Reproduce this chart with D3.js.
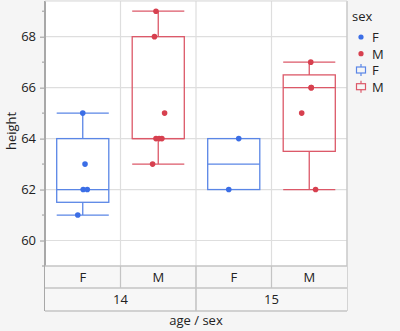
<!DOCTYPE html>
<html><head><meta charset="utf-8">
<script src="https://cdn.jsdelivr.net/npm/d3@7"></script>
<style>body{margin:0;background:#f5f5f5;}svg{display:block;font-family:"Open Sans","Noto Sans",sans-serif;}</style>
</head><body><svg id="c" width="400" height="331"></svg>
<script>
const ages = ["14","15"];
const sexes = ["F","M"];
const groupAge = ["14","14","15","15"];
const groupSex = ["F","M","F","M"];
const groupValues = [
  [65,63,62,62,61],
  [69,68,65,64,64,64,63],
  [64,62],
  [67,66,66,65,62]
];
const jitter = [
  [0,0.03,0.006,0.06,-0.066],
  [-0.03,-0.05,0.084,-0.03,0.012,0.048,-0.075],
  [0.066,-0.066],
  [0.02,0.026,0.026,-0.1,0.084]
];
const yTicks = [60,62,64,66,68];
const yMinor = [59,61,63,65,67,69];
const colors = {F:"#3b6ee6", M:"#d7404f"};
const boxColors = {F:"#5a86e6", M:"#dc5868"};

const svg = d3.select("#c");
const L=45, R=347, T=1, B=266;
svg.append("rect").attr("x",L).attr("y",T).attr("width",R-L).attr("height",B-T).attr("fill","#fff");
const y = d3.scaleLinear().domain([59,69.4]).range([B,T]);
const x = d3.scaleBand().domain(d3.range(groupValues.length)).range([L,R]);

// grid
svg.append("g").selectAll("line").data(yTicks).join("line")
  .attr("x1",L).attr("x2",R).attr("y1",d=>y(d)).attr("y2",d=>y(d)).attr("stroke","#dedede").attr("stroke-width",1.2);
svg.append("g").selectAll("line").data(d3.range(1,groupValues.length)).join("line")
  .attr("x1",d=>x(d)).attr("x2",d=>x(d)).attr("y1",T).attr("y2",B).attr("stroke","#dedede").attr("stroke-width",1.2);

// y axis
const ax = svg.append("g").attr("transform",`translate(${L},0)`)
  .call(d3.axisLeft(y).tickValues(yTicks).tickSize(5).tickFormat(d3.format("d")));
ax.select(".domain").remove();
ax.selectAll("line").attr("stroke","#999");
ax.selectAll("text").attr("font-size",13).attr("fill","#222").attr("font-family","Open Sans, sans-serif").attr("x",-9);
svg.append("g").selectAll("line").data(yMinor).join("line")
  .attr("x1",L-3).attr("x2",L).attr("y1",d=>y(d)).attr("y2",d=>y(d)).attr("stroke","#999");

// boxes
function q(arr,p){const s=arr.slice().sort((a,b)=>a-b);const n=s.length;const h=(n+1)*p;const lo=Math.floor(h),hi=Math.ceil(h);
  const a=s[Math.max(0,Math.min(n-1,lo-1))],b=s[Math.max(0,Math.min(n-1,hi-1))];return a+(b-a)*(h-lo);}
const bw = x.bandwidth();
groupValues.forEach((vals,i)=>{
  const sx=groupSex[i], c=boxColors[sx];
  const cx=x(i)+bw/2, half=bw*0.345;
  const q1=q(vals,0.25), med=q(vals,0.5), q3=q(vals,0.75), mn=d3.min(vals), mx=d3.max(vals);
  const g=svg.append("g").attr("stroke",c).attr("fill","none").attr("stroke-width",1.3);
  g.append("rect").attr("x",cx-half).attr("y",y(q3)).attr("width",2*half).attr("height",y(q1)-y(q3));
  g.append("line").attr("x1",cx-half).attr("x2",cx+half).attr("y1",y(med)).attr("y2",y(med));
  if(mx>q3){g.append("line").attr("x1",cx).attr("x2",cx).attr("y1",y(mx)).attr("y2",y(q3));
    g.append("line").attr("x1",cx-half).attr("x2",cx+half).attr("y1",y(mx)).attr("y2",y(mx));}
  if(mn<q1){g.append("line").attr("x1",cx).attr("x2",cx).attr("y1",y(q1)).attr("y2",y(mn));
    g.append("line").attr("x1",cx-half).attr("x2",cx+half).attr("y1",y(mn)).attr("y2",y(mn));}
  svg.append("g").selectAll("circle").data(vals).join("circle")
    .attr("cx",(d,j)=>cx+jitter[i][j]*bw).attr("cy",d=>y(d)).attr("r",2.8).attr("fill",colors[sx]);
});

// border
svg.append("line").attr("x1",L).attr("x2",L).attr("y1",T).attr("y2",311).attr("stroke","#a8a8a8").attr("stroke-width",2);
svg.append("line").attr("x1",R).attr("x2",R).attr("y1",T).attr("y2",311).attr("stroke","#c8c8c8").attr("stroke-width",1.5);
svg.append("line").attr("x1",L).attr("x2",R).attr("y1",T).attr("y2",T).attr("stroke","#d8d8d8");

// category table
const r1=B, r2=288, r3=311;
svg.append("rect").attr("x",L).attr("y",r1).attr("width",R-L).attr("height",r3-r1).attr("fill","#f7f7f7");
[r1,r2,r3].forEach(yy=>svg.append("line").attr("x1",L).attr("x2",R).attr("y1",yy).attr("y2",yy).attr("stroke","#c4c4c4").attr("stroke-width",1.4));
d3.range(1,groupValues.length).forEach(i=>{
  const ageBoundary = groupAge[i]!==groupAge[i-1];
  svg.append("line").attr("x1",x(i)).attr("x2",x(i)).attr("y1",r1).attr("y2",ageBoundary?r3:r2).attr("stroke","#c4c4c4").attr("stroke-width",ageBoundary?1.6:1.2);
});
svg.append("g").selectAll("text").data(groupSex).join("text")
  .attr("x",(d,i)=>x(i)+bw/2).attr("y",(r1+r2)/2+4.5).attr("text-anchor","middle").attr("font-size",13).attr("fill","#222").text(d=>d);
const ageX = ages.map(a=>{const idx=groupAge.map((g,i)=>g===a?i:-1).filter(i=>i>=0);return (x(idx[0])+x(idx[idx.length-1])+bw)/2;});
svg.append("g").selectAll("text").data(ages).join("text")
  .attr("x",(d,i)=>ageX[i]).attr("y",(r2+r3)/2+4.5).attr("text-anchor","middle").attr("font-size",13).attr("fill","#222").text(d=>d);

// axis titles
svg.append("text").attr("x",(L+R)/2).attr("y",325).attr("text-anchor","middle").attr("font-size",13).attr("fill","#222").text("age / sex");
svg.append("text").attr("transform",`translate(16,${y(64.3)}) rotate(-90)`).attr("text-anchor","middle").attr("font-size",13).attr("fill","#222").text("height");

// legend
const lg=svg.append("g");
lg.append("text").attr("x",352).attr("y",21).attr("font-size",13).attr("fill","#222").text("sex");
sexes.forEach((s,i)=>{
  const yy=37+i*16.7;
  lg.append("circle").attr("cx",361).attr("cy",yy).attr("r",2.6).attr("fill",colors[s]);
  lg.append("text").attr("x",372).attr("y",yy+5).attr("font-size",13).attr("fill","#222").text(s);
});
sexes.forEach((s,i)=>{
  const yy=70+i*16.7;
  const g=lg.append("g").attr("stroke",boxColors[s]).attr("fill","none").attr("stroke-width",1.2);
  g.append("rect").attr("x",356.5).attr("y",yy-3).attr("width",9).attr("height",6);
  g.append("line").attr("x1",361).attr("x2",361).attr("y1",yy-6).attr("y2",yy-3);
  g.append("line").attr("x1",361).attr("x2",361).attr("y1",yy+3).attr("y2",yy+6);
  lg.append("text").attr("x",372).attr("y",yy+5).attr("font-size",13).attr("fill","#222").text(s);
});
</script></body></html>
